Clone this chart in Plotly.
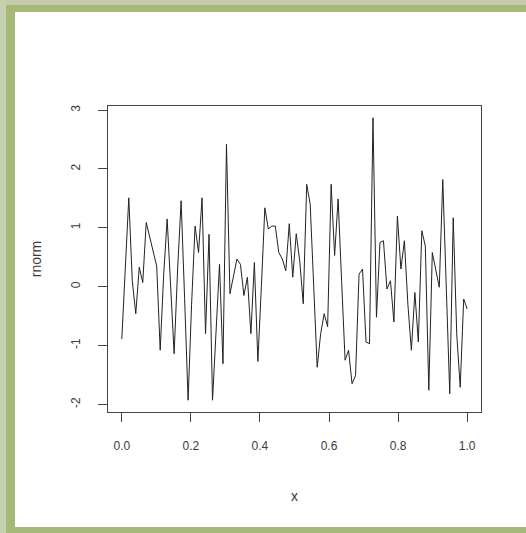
import plotly.graph_objects as go

# data
n_points = 100
x_vals = [i / (n_points - 1) for i in range(n_points)]
rnorm = [
    -0.89, 0.30, 1.51, 0.10, -0.46, 0.33, 0.07, 1.09, 0.85, 0.60,
    0.35, -1.08, 0.20, 1.15, 0.00, -1.14, 0.30, 1.46, -0.20, -1.93,
    -0.30, 1.03, 0.58, 1.51, -0.80, 0.89, -1.93, -0.70, 0.38, -1.31,
    2.42, -0.12, 0.20, 0.47, 0.38, -0.15, 0.16, -0.80, 0.41, -1.27,
    0.00, 1.34, 0.98, 1.03, 1.03, 0.58, 0.47, 0.27, 1.07, 0.16,
    0.90, 0.44, -0.29, 1.74, 1.40, 0.00, -1.37, -0.80, -0.46, -0.68,
    1.74, 0.53, 1.49, 0.10, -1.25, -1.08, -1.65, -1.51, 0.21, 0.30,
    -0.94, -0.97, 2.87, -0.52, 0.75, 0.78, -0.04, 0.10, -0.60, 1.20,
    0.30, 0.78, -0.30, -1.08, -0.10, -0.94, 0.95, 0.69, -1.76, 0.58,
    0.30, -0.01, 1.82, 0.16, -1.82, 1.17, -0.80, -1.71, -0.21, -0.38,
]
x_ticks = [0.0, 0.2, 0.4, 0.6, 0.8, 1.0]
y_ticks = [-2, -1, 0, 1, 2, 3]

W, H = 526, 533
L, R, T, B = 108, 45, 106, 121
PW, PH = W - L - R, H - T - B

def px(v):
    return (v - L) / PW

def py(v):
    return (H - B - v) / PH

fig = go.Figure()
fig.add_trace(go.Scatter(x=x_vals, y=rnorm, mode="lines",
                         line=dict(color="#222222", width=1), showlegend=False,
                         hoverinfo="skip"))

shapes = [
    dict(type="rect", xref="paper", yref="paper", x0=px(0), x1=px(W), y0=py(H), y1=py(0),
         fillcolor="#a7b978", line=dict(width=0), layer="below"),
    dict(type="rect", xref="paper", yref="paper", x0=px(0), x1=px(W), y0=py(5), y1=py(0),
         fillcolor="#c4ccac", line=dict(width=0), layer="below"),
    dict(type="rect", xref="paper", yref="paper", x0=px(0), x1=px(6), y0=py(H), y1=py(0),
         fillcolor="#c6cfae", line=dict(width=0), layer="below"),
    dict(type="rect", xref="paper", yref="paper", x0=px(15), x1=px(W + 5), y0=py(527), y1=py(12),
         fillcolor="white", line=dict(width=0), layer="below"),
]

fig.update_layout(
    width=W, height=H,
    margin=dict(l=L, r=R, t=T, b=B),
    paper_bgcolor="white",
    plot_bgcolor="rgba(0,0,0,0)",
    shapes=shapes,
    font=dict(family="Liberation Sans, Arial, sans-serif", size=12, color="#3a3a3a"),
    xaxis=dict(range=[-0.04, 1.04], tickvals=x_ticks, ticktext=[f"{v:.1f}" for v in x_ticks],
               showgrid=False, zeroline=False, showline=True, mirror=True,
               linecolor="#444444", linewidth=1, ticks="outside", ticklen=9,
               tickcolor="#444444", ticklabelstandoff=14,
               title=dict(text="x", standoff=38)),
    yaxis=dict(range=[-2.13, 3.07], tickvals=y_ticks, ticktext=[str(v) for v in y_ticks],
               showgrid=False, zeroline=False, showline=True, mirror=True,
               linecolor="#444444", linewidth=1, ticks="outside", ticklen=9,
               tickcolor="#444444", tickangle=-90, ticklabelstandoff=13,
               title=dict(text="rnorm", standoff=24)),
)

fig.write_html("out.html")
